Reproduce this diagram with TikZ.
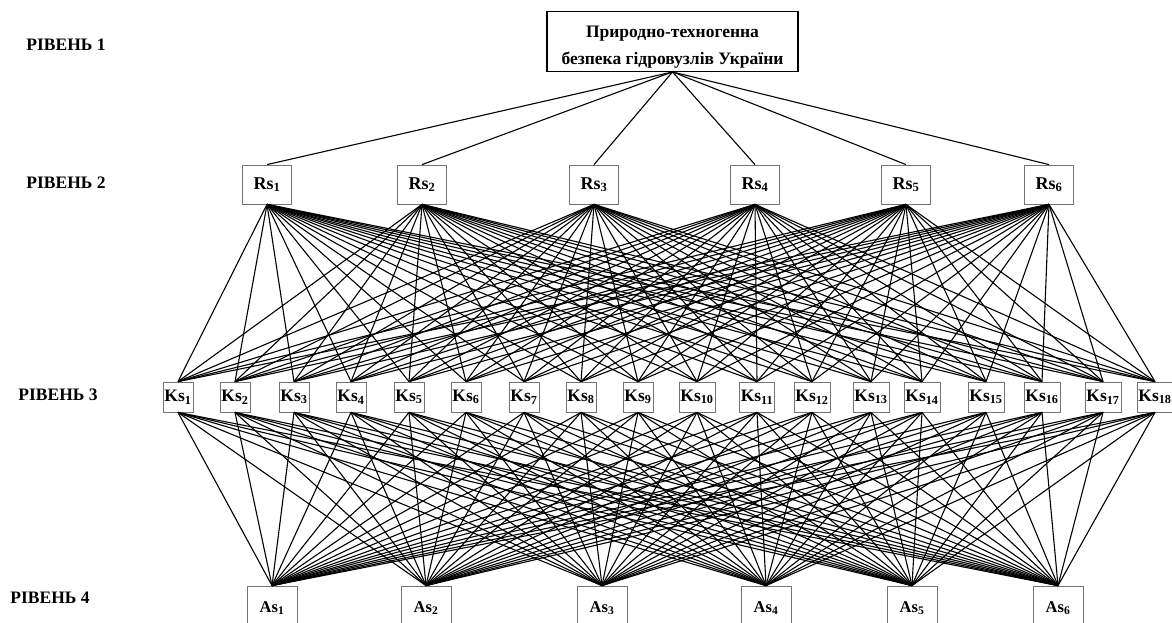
\documentclass[tikz,border=0pt]{standalone}
\usepackage{fontspec}
\setmainfont{Liberation Serif}
\usetikzlibrary{positioning}

\tikzset{
  levellabel/.style={font=\bfseries\fontsize{17.5}{20}\selectfont, inner sep=0pt},
  topbox/.style={draw=black, line width=1.4pt, minimum width=251pt, minimum height=59pt,
    align=center, font=\bfseries\fontsize{17.5}{27}\selectfont},
  rbox/.style={draw=black!55, line width=0.8pt, minimum width=49pt, minimum height=39pt,
    inner sep=1pt, font=\bfseries\fontsize{18}{20}\selectfont},
  kbox/.style={draw=black!55, line width=0.8pt, minimum width=28pt, minimum height=30pt,
    inner sep=1.5pt, font=\bfseries\fontsize{17.5}{19}\selectfont},
  abox/.style={draw=black!55, line width=0.8pt, minimum width=50pt, minimum height=44pt,
    inner sep=1pt, font=\bfseries\fontsize{16.5}{18}\selectfont},
  link/.style={line width=1.1pt, black}
}

\begin{document}
\begin{tikzpicture}[x=1pt, y=-1pt]
  \useasboundingbox (0,0) rectangle (1172,623);
  % Level labels
  \node[levellabel] (lvl1) at (66,45) {РІВЕНЬ 1};
  \node[levellabel] (lvl2) at (66,183) {РІВЕНЬ 2};
  \node[levellabel] (lvl3) at (58,395) {РІВЕНЬ 3};
  \node[levellabel] (lvl4) at (50,598) {РІВЕНЬ 4};
  % Level 1
  \node[topbox] (top) at (672.5,41.5) {\rule{0pt}{22pt}Природно-техногенна\\безпека гідровузлів України};
  % Level 2
  \foreach \i/\x in {1/267,2/422,3/594,4/755,5/906,6/1049}
    \node[rbox] (rs\i) at (\x,184.5) {Rs\textsubscript{\i}};
  % Level 3
  \foreach \i/\x in {1/178,2/235,3/294,4/351,5/409,6/466,7/524,8/581,9/638,
                     10/697,11/757,12/812,13/871,14/922,15/986,16/1042,17/1103,18/1155}
    \node[kbox] (ks\i) at (\x,397) {Ks\textsubscript{\i}};
  % Level 4
  \foreach \i/\x in {1/272,2/426,3/602,4/766,5/912,6/1058}
    \node[abox] (as\i) at (\x,608) {As\textsubscript{\i}};
  % Links
  \foreach \i in {1,...,6}
    \draw[link] (top.south) -- (rs\i.north);
  \foreach \i in {1,...,6}
    \foreach \j in {1,...,18}
      \draw[link] (rs\i.south) -- (ks\j.north);
  \foreach \j in {1,...,18}
    \foreach \i in {1,...,6}
      \draw[link] (ks\j.south) -- (as\i.north);
\end{tikzpicture}
\end{document}
